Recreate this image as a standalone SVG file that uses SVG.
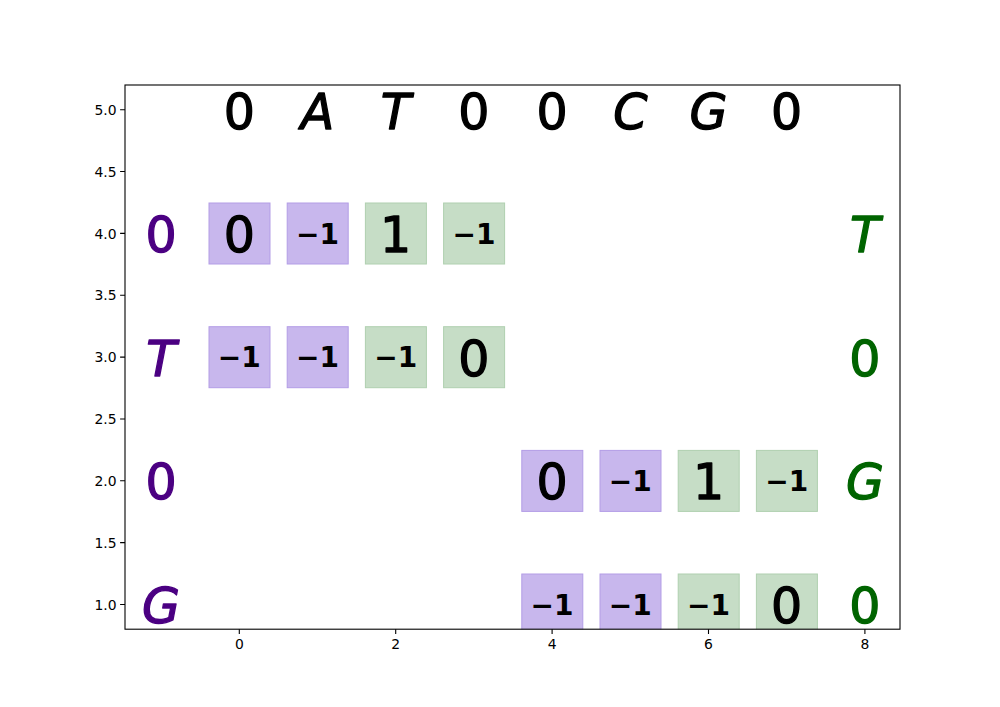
<svg xmlns="http://www.w3.org/2000/svg" width="1000" height="707" viewBox="0 0 1000 707">
<style>
.t{font-family:"DejaVu Sans",sans-serif;text-anchor:middle}
.big{font-size:49px;font-weight:normal;stroke-width:1.3;stroke-linejoin:round}
.blk{fill:#000;stroke:#000}
.sm{font-size:28px;font-weight:bold;fill:#000}
.it{font-style:italic}
.p{fill:#c8b7ed;stroke:#b39de6;stroke-width:1}
.g{fill:#c6ddc6;stroke:#b0d0b0;stroke-width:1}
.tick{font-family:"DejaVu Sans",sans-serif;font-size:13.9px;fill:#000}
.ind{fill:#4b0082;stroke:#4b0082}
.dg{fill:#006400;stroke:#006400}
</style>
<defs>
<clipPath id="ax"><rect x="125" y="85" width="775" height="544.2"/></clipPath>
</defs>
<rect width="1000" height="707" fill="#fff"/>
<g id="cells" clip-path="url(#ax)">
<g id="r4c0"><rect class="p" x="209" y="203" width="61" height="61"/><text class="t big blk" x="239.3" y="252">0</text></g>
<g id="r4c1"><rect class="p" x="287.2" y="203" width="61" height="61"/><text class="t sm" x="317.5" y="243.6">−1</text></g>
<g id="r4c2"><rect class="g" x="365.4" y="203" width="61" height="61"/><text class="t big blk" x="395.7" y="252">1</text></g>
<g id="r4c3"><rect class="g" x="443.6" y="203" width="61" height="61"/><text class="t sm" x="473.9" y="243.6">−1</text></g>
<g id="r3c0"><rect class="p" x="209" y="326.7" width="61" height="61"/><text class="t sm" x="239.3" y="367.3">−1</text></g>
<g id="r3c1"><rect class="p" x="287.2" y="326.7" width="61" height="61"/><text class="t sm" x="317.5" y="367.3">−1</text></g>
<g id="r3c2"><rect class="g" x="365.4" y="326.7" width="61" height="61"/><text class="t sm" x="395.7" y="367.3">−1</text></g>
<g id="r3c3"><rect class="g" x="443.6" y="326.7" width="61" height="61"/><text class="t big blk" x="473.9" y="375.7">0</text></g>
<g id="r2c4"><rect class="p" x="521.8" y="450.4" width="61" height="61"/><text class="t big blk" x="552.1" y="499.4">0</text></g>
<g id="r2c5"><rect class="p" x="600" y="450.4" width="61" height="61"/><text class="t sm" x="630.3" y="491">−1</text></g>
<g id="r2c6"><rect class="g" x="678.2" y="450.4" width="61" height="61"/><text class="t big blk" x="708.5" y="499.4">1</text></g>
<g id="r2c7"><rect class="g" x="756.4" y="450.4" width="61" height="61"/><text class="t sm" x="786.7" y="491">−1</text></g>
<g id="r1c4"><rect class="p" x="521.8" y="574" width="61" height="61"/><text class="t sm" x="552.1" y="614.7">−1</text></g>
<g id="r1c5"><rect class="p" x="600" y="574" width="61" height="61"/><text class="t sm" x="630.3" y="614.7">−1</text></g>
<g id="r1c6"><rect class="g" x="678.2" y="574" width="61" height="61"/><text class="t sm" x="708.5" y="614.7">−1</text></g>
<g id="r1c7"><rect class="g" x="756.4" y="574" width="61" height="61"/><text class="t big blk" x="786.7" y="623.1">0</text></g>
</g>
<g id="top-labels">
<text class="t big blk" x="239.3" y="129">0</text>
<text class="t big blk it" x="317.5" y="129">A</text>
<text class="t big blk it" x="395.7" y="129">T</text>
<text class="t big blk" x="473.9" y="129">0</text>
<text class="t big blk" x="552.1" y="129">0</text>
<text class="t big blk it" x="630.3" y="129">C</text>
<text class="t big blk it" x="708.5" y="129">G</text>
<text class="t big blk" x="786.7" y="129">0</text>
</g>
<g id="left-labels">
<text class="t big ind" x="161.1" y="252">0</text>
<text class="t big ind it" x="161.1" y="375.7">T</text>
<text class="t big ind" x="161.1" y="499.4">0</text>
<text class="t big ind it" x="161.1" y="623.1">G</text>
</g>
<g id="right-labels">
<text class="t big dg it" x="864.9" y="252">T</text>
<text class="t big dg" x="864.9" y="375.7">0</text>
<text class="t big dg it" x="864.9" y="499.4">G</text>
<text class="t big dg" x="864.9" y="623.1">0</text>
</g>
<g id="axes" stroke="#000" stroke-width="1.1" fill="none">
<rect x="125" y="85" width="775" height="544.2" stroke-linecap="square"/>
<path d="M239.3 629.2v4.9M395.7 629.2v4.9M552.1 629.2v4.9M708.5 629.2v4.9M864.9 629.2v4.9"/>
<path d="M125 109.7h-4.9M125 171.55h-4.9M125 233.4h-4.9M125 295.25h-4.9M125 357.1h-4.9M125 418.95h-4.9M125 480.8h-4.9M125 542.65h-4.9M125 604.5h-4.9"/>
</g>
<g id="xticks" class="tick" text-anchor="middle">
<text x="239.3" y="649">0</text>
<text x="395.7" y="649">2</text>
<text x="552.1" y="649">4</text>
<text x="708.5" y="649">6</text>
<text x="864.9" y="649">8</text>
</g>
<g id="yticks" class="tick" text-anchor="end">
<text x="116.5" y="114.8">5.0</text>
<text x="116.5" y="176.6">4.5</text>
<text x="116.5" y="238.5">4.0</text>
<text x="116.5" y="300.3">3.5</text>
<text x="116.5" y="362.2">3.0</text>
<text x="116.5" y="424">2.5</text>
<text x="116.5" y="485.9">2.0</text>
<text x="116.5" y="547.7">1.5</text>
<text x="116.5" y="609.6">1.0</text>
</g>
</svg>
